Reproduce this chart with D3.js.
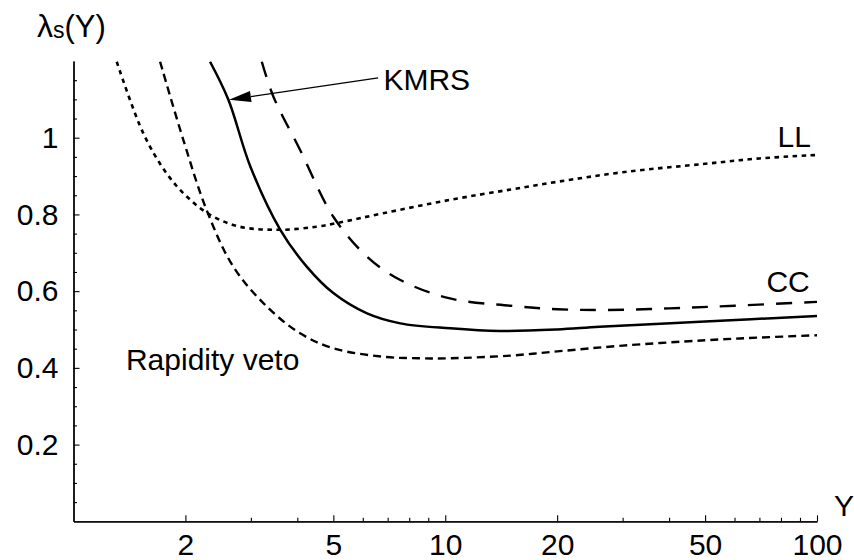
<!DOCTYPE html>
<html>
<head>
<meta charset="utf-8">
<script src="https://cdn.jsdelivr.net/npm/d3@7"></script>
<style>
  html,body{margin:0;padding:0;background:#fff;}
  svg text{font-family:"Liberation Sans",Arial,sans-serif;fill:#000;}
</style>
</head>
<body>
<svg id="chart" width="854" height="560"></svg>
<script>
/* ── data: lambda_s(Y) for four models ── */
var llY   =[1.307,1.54,1.78,2.02,2.33,2.8,3.6,4.5,5.2,6.8,10.3,15,20,30,50,70,100];
var llV   =[1.198,1.012,0.907,0.846,0.799,0.768,0.760,0.768,0.779,0.803,0.838,0.865,0.885,0.91,0.932,0.946,0.955];
var vetoY =[1.71,1.975,2.28,2.69,3.31,4.07,5.0,6.8,8.5,10.3,15,20,30,50,70,100];
var vetoV =[1.198,0.994,0.812,0.664,0.560,0.490,0.451,0.429,0.425,0.425,0.432,0.443,0.458,0.472,0.479,0.485];
var kmrsY =[2.33,2.61,2.99,3.6,4.24,5.0,6.16,7.57,10.3,14,20,26,50,100];
var kmrsV =[1.198,1.099,0.925,0.760,0.664,0.595,0.542,0.516,0.503,0.496,0.500,0.507,0.521,0.535];
var ccY   =[3.21,3.45,4.07,5.0,6.16,7.57,10.3,15,20,27,40,60,100];
var ccV   =[1.198,1.107,0.968,0.794,0.690,0.629,0.581,0.562,0.553,0.551,0.555,0.562,0.572];

var xMajor=[2,5,10,20,50,100];
var xMinor=[3,4,6,7,8,9,30,40,60,70,80,90];
var yMajor=[0.2,0.4,0.6,0.8,1];
var yMinor=[0.05,0.1,0.15,0.25,0.3,0.35,0.45,0.5,0.55,0.65,0.7,0.75,0.85,0.9,0.95,1.05,1.1,1.15];

/* ── layout ── */
var X0=73.5, X1=817, Y0=521.3, Y1=61;
var svg=d3.select('#chart');
svg.append('rect').attr('width',854).attr('height',560).attr('fill','#fff');

var xS=d3.scaleLog().domain([1,100]).range([X0,X1]);
var yS=d3.scaleLinear().domain([0,1.2]).range([Y0,Y1]);

/* clip to plot area */
svg.append('clipPath').attr('id','plotClip').append('rect')
  .attr('x',X0).attr('y',Y1).attr('width',X1-X0+2).attr('height',Y0-Y1);

/* ── axes ── */
function styleAxis(g){
  g.selectAll('path.domain').attr('stroke','#000').attr('stroke-width',1.3);
  g.selectAll('.tick line').attr('stroke','#000').attr('stroke-width',1.1);
  g.selectAll('.tick text').attr('font-size','30px').attr('fill','#000')
    .attr('font-family','"Liberation Sans",Arial,sans-serif');
}

svg.append('g').attr('transform','translate(0,'+Y0+')')
  .call(d3.axisBottom(xS).tickValues(xMinor).tickSizeInner(-3.5).tickSizeOuter(0).tickFormat(''))
  .call(styleAxis);
svg.append('g').attr('transform','translate(0,'+Y0+')')
  .call(d3.axisBottom(xS).tickValues(xMajor).tickSizeInner(-6).tickSizeOuter(0).tickPadding(12)
    .tickFormat(d3.format('d')))
  .call(styleAxis);

svg.append('g').attr('transform','translate('+X0+',0)')
  .call(d3.axisLeft(yS).tickValues(yMinor).tickSizeInner(-3.5).tickSizeOuter(0).tickFormat(''))
  .call(styleAxis);
svg.append('g').attr('transform','translate('+X0+',0)')
  .call(d3.axisLeft(yS).tickValues(yMajor).tickSizeInner(-6).tickSizeOuter(0).tickPadding(15)
    .tickFormat(function(d){return d===1?'1':d3.format('.1f')(d);}))
  .call(styleAxis);

/* axis titles */
var yt=svg.append('text').attr('x',37).attr('y',37).attr('font-size','30px');
yt.append('tspan').attr('font-size','32px').text('λ');
yt.append('tspan').attr('font-size','23px').attr('dy',1).text('s');
yt.append('tspan').attr('dy',-1).attr('font-size','31px').text('(Y)');
svg.append('text').attr('x',834).attr('y',516).attr('font-size','30px').text('Y');

/* ── curves ── */
var line=d3.line().x(function(d){return xS(d[0]);}).y(function(d){return yS(d[1]);})
  .curve(d3.curveCatmullRom.alpha(0.5));
var plot=svg.append('g').attr('clip-path','url(#plotClip)');

function drawCurve(xs,vs,dash,w){
  plot.append('path').datum(d3.zip(xs,vs))
    .attr('d',line).attr('fill','none').attr('stroke','#000')
    .attr('stroke-width',w).attr('stroke-dasharray',dash);
}
drawCurve(llY,llV,'4.5,4.5',2.6);
drawCurve(vetoY,vetoV,'8,5',2.4);
drawCurve(kmrsY,kmrsV,null,2.5);
drawCurve(ccY,ccV,'16,12',2.4);

/* ── labels ── */
function label(x,v,txt){
  svg.append('text').attr('x',xS(x)).attr('y',yS(v)).attr('font-size','30px').text(txt);
}
label(6.82,1.125,'KMRS');
label(1.384,0.3945,'Rapidity veto');
label(78.3,0.976,'LL');
label(73.1,0.598,'CC');

/* arrow KMRS -> solid curve */
var ax0=xS(6.6), ay0=yS(1.156), ax1=xS(2.62), ay1=yS(1.099);
var ang=Math.atan2(ay1-ay0,ax1-ax0), hl=22, hw=5.5;
var bx=ax1-hl*Math.cos(ang), by=ay1-hl*Math.sin(ang);
svg.append('line').attr('x1',ax0).attr('y1',ay0).attr('x2',bx).attr('y2',by)
  .attr('stroke','#000').attr('stroke-width',1.3);
svg.append('path')
  .attr('d','M'+ax1+','+ay1+
    'L'+(bx+hw*Math.sin(ang))+','+(by-hw*Math.cos(ang))+
    'L'+(bx-hw*Math.sin(ang))+','+(by+hw*Math.cos(ang))+'Z')
  .attr('fill','#000');
</script>
</body>
</html>
